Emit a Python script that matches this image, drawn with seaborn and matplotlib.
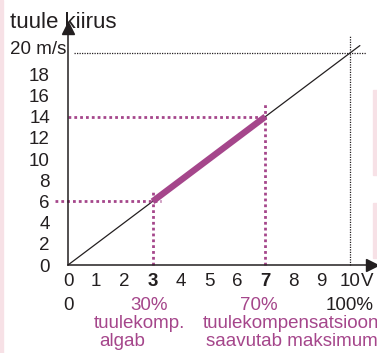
import matplotlib
matplotlib.use("Agg")
import matplotlib.pyplot as plt
from matplotlib.patches import Rectangle
import seaborn as sns

sns.set_theme(style="white")
plt.rcParams["font.family"] = ["Liberation Sans", "DejaVu Sans"]

# Wind speed (m/s) as a function of the control voltage (V)
voltage = [0, 10.35]
wind_speed = [0, 20.7]

# Wind compensation range
comp_voltage = [3, 7]
comp_speed = [6, 14]

x_ticks = [0, 1, 2, 3, 4, 5, 6, 7, 8, 9, 10]
y_ticks = [0, 2, 4, 6, 8, 10, 12, 14, 16, 18]
max_speed = 20
max_voltage = 10

BLACK = "#231f20"
MAGENTA = "#a5468b"

W, H = 377, 353
fig = plt.figure(figsize=(W / 100, H / 100), dpi=100)
ax = fig.add_axes([68 / W, (H - 265) / H, 304 / W, 237 / H])

sns.lineplot(x=voltage, y=wind_speed, color=BLACK, linewidth=0.9, ax=ax)
sns.lineplot(x=comp_voltage, y=comp_speed, color=MAGENTA, linewidth=4.6,
             solid_capstyle="butt", ax=ax)

dots = (0, (1, 1.1))
# guides for the start and end of compensation
ax.plot([-0.45, comp_voltage[0] + 0.3], [comp_speed[0]] * 2, color=MAGENTA,
        lw=2.0, ls=dots, clip_on=False)
ax.plot([comp_voltage[0]] * 2, [0, comp_speed[0] + 1.0], color=MAGENTA,
        lw=2.0, ls=dots, clip_on=False)
ax.plot([0, comp_voltage[1]], [comp_speed[1]] * 2, color=MAGENTA,
        lw=2.0, ls=dots, clip_on=False)
ax.plot([comp_voltage[1]] * 2, [0, comp_speed[1] + 1.3], color=MAGENTA,
        lw=2.0, ls=dots, clip_on=False)
# guides for the maximum
ax.plot([0.2, 10.55], [max_speed] * 2, color=BLACK, lw=0.9,
        ls=(0, (1, 1)), clip_on=False)
ax.plot([max_voltage] * 2, [0, 21.6], color=BLACK, lw=0.9,
        ls=(0, (1, 1)), clip_on=False)

ax.set_xlim(0, 304 / 28.2)
ax.set_ylim(0, 237 / 10.6)

for side in ["top", "right"]:
    ax.spines[side].set_visible(False)
for side in ["left", "bottom"]:
    ax.spines[side].set_color(BLACK)
    ax.spines[side].set_linewidth(1.1)

# axis arrows
ax.plot(1, 0, ">", color=BLACK, ms=9, transform=ax.get_yaxis_transform(),
        clip_on=False)
ax.plot(0, 1, "^", color=BLACK, ms=9, transform=ax.get_xaxis_transform(),
        clip_on=False)

ax.set_xticks(x_ticks)
ax.set_xticklabels([str(v) for v in x_ticks])
ax.set_yticks(y_ticks)
ax.set_yticklabels([str(v) for v in y_ticks])
ax.tick_params(axis="x", length=0, pad=6, labelsize=13.5, labelcolor=BLACK)
ax.tick_params(axis="y", length=0, pad=13, labelsize=13.5, labelcolor=BLACK)
for lbl in ax.get_xticklabels():
    if lbl.get_text() in ("3", "7"):
        lbl.set_fontweight("bold")
ax.set_xlabel("")
ax.set_ylabel("")

ax.text(-0.005, max_speed + 0.3, "20 m/s", transform=ax.get_yaxis_transform(),
        ha="right", va="center", fontsize=13.5, color=BLACK)

def ft(px, py, s, color=BLACK, ha="center", size=13.5, **kw):
    fig.text(px / W, 1 - py / H, s, ha=ha, va="center", fontsize=size,
             color=color, **kw)

ft(10, 22, "tuule kiirus", ha="left", size=16)
ft(361, 281, "V", ha="left")
ft(68, 306, "0")
ft(149, 306, "30%", color=MAGENTA)
ft(259, 306, "70%", color=MAGENTA)
ft(326, 306, "100%", ha="left")
ft(139, 323, "tuulekomp.", color=MAGENTA)
ft(122, 342, "algab", color=MAGENTA)
ft(203, 323, "tuulekompensatsioon", ha="left", color=MAGENTA)
ft(206, 342, "saavutab maksimumi", ha="left", color=MAGENTA)

# light side bands
PINK = "#f7e1e6"
fig.patches.append(Rectangle((0, 0), 3 / W, 1, transform=fig.transFigure,
                             color=PINK, zorder=-1))
fig.patches.append(Rectangle((373 / W, 1 - 175 / H), 4 / W, 85 / H,
                             transform=fig.transFigure, color=PINK, zorder=-1))
fig.patches.append(Rectangle((373 / W, 1 - 258 / H), 4 / W, 55 / H,
                             transform=fig.transFigure, color=PINK, zorder=-1))

fig.savefig("out.png", dpi=100)
